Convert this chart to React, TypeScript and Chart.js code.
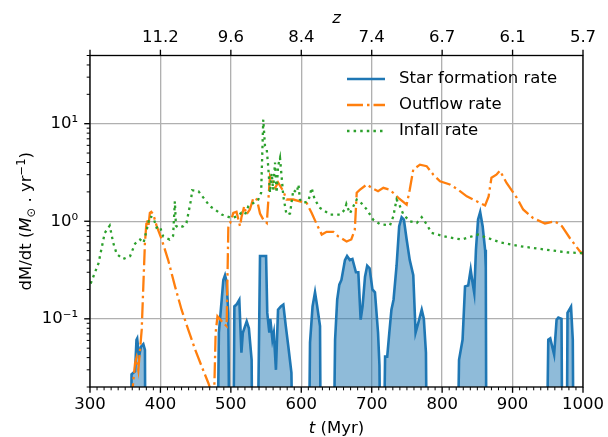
import React, { useEffect, useRef } from 'react';
import { Chart, registerables } from 'chart.js';

Chart.register(...registerables);

// ---------------- data ----------------
const sfrTime = [
  300, 357.5, 359, 364, 366, 367, 369.6, 372.5, 375.7, 378, 379,
  480, 483, 487, 489.3, 491.7, 494, 496.4, 498.5,
  503, 505, 508, 512, 515, 517, 522.5, 525.6, 529.5, 531,
  537, 541.4, 550, 551.7, 554.6, 556, 559, 561, 564, 567, 571, 574.5, 578, 581.6, 586, 589,
  610, 612.4, 616, 619.5, 622.6, 626.6, 628,
  645, 648, 651, 654, 657, 662, 665, 669, 672.6, 677.6, 681, 684.3, 687, 690.5, 693.6, 697, 701, 704.6, 709, 711, 713,
  716, 719, 722, 725, 728, 731, 735.3, 739, 742.5, 745.7, 749.6, 754, 759, 762.3, 766, 771, 774, 777, 779,
  820.5, 824, 829, 832.5, 837, 840.5, 842.6, 845.6, 848, 851, 854, 857.5, 861, 862, 863,
  947.5, 950.7, 953.5, 959, 962.5, 965, 969.5, 971,
  976.6, 978, 983, 985.5, 987, 1000,
];
const sfrRate = [
  0.001, 0.001, 0.027, 0.029, 0.061, 0.063, 0.041, 0.052, 0.055, 0.048, 0.001,
  0.001, 0.072, 0.157, 0.25, 0.28, 0.24, 0.115, 0.001,
  0.001, 0.134, 0.14, 0.157, 0.045, 0.072, 0.094, 0.08, 0.038, 0.001,
  0.001, 0.44, 0.44, 0.115, 0.072, 0.1, 0.061, 0.072, 0.03, 0.124, 0.134, 0.14, 0.084, 0.052, 0.028, 0.001,
  0.001, 0.057, 0.134, 0.187, 0.134, 0.084, 0.001,
  0.001, 0.061, 0.157, 0.224, 0.25, 0.4, 0.44, 0.4, 0.41, 0.3, 0.3, 0.098, 0.134, 0.27, 0.35, 0.33, 0.2, 0.187, 0.072, 0.033, 0.001,
  0.001, 0.041, 0.041, 0.072, 0.124, 0.157, 0.35, 0.89, 1.1, 1.04, 0.65, 0.4, 0.28, 0.072, 0.09, 0.124, 0.1, 0.045, 0.001,
  0.001, 0.038, 0.061, 0.215, 0.22, 0.32, 0.25, 0.184, 0.51, 1.04, 1.24, 0.89, 0.51, 0.33, 0.001,
  0.001, 0.061, 0.063, 0.043, 0.098, 0.103, 0.1, 0.001,
  0.001, 0.115, 0.133, 0.061, 0.001, 0.001,
];

const outflowTime = [
  359, 364, 366, 368.6, 373.4, 375.7, 378, 380.5, 383, 385, 387, 390, 394.7, 401.8, 411, 420.7, 430, 439.6, 449, 458.5, 468, 472, 476,
  478.4, 481, 484, 489.6, 494, 496.5, 499, 503.5, 508, 513, 515, 519, 522, 527, 532, 537, 541.4, 546, 551,
  555.6, 560, 563, 567, 574.5, 579, 588.7, 598, 607.6, 614.6, 622, 629, 636, 645.5, 652.5, 664.3, 671, 676,
  678.7, 683, 693, 700, 709, 716.5, 726, 737.8, 749.6, 754, 759, 768.5, 778, 787.5, 797, 811, 823, 835, 849, 861,
  866, 870, 877, 882, 891.5, 906, 915, 929, 946, 960, 970, 981.5, 995.7, 1000,
];
const outflowRate = [
  0.015, 0.0353, 0.04, 0.03, 0.077, 0.215, 0.6, 1.04, 0.9, 1.22, 1.25, 1.17, 0.89, 0.65, 0.4, 0.215, 0.124, 0.077, 0.049, 0.0326, 0.022, 0.018, 0.014,
  0.072, 0.106, 0.1, 0.09, 0.084, 0.93, 0.96, 1.22, 1.25, 0.89, 1.09, 1.43, 1.17, 1.32, 1.74, 1.67, 1.2, 1.04, 0.96,
  2.9, 2.5, 2.2, 2.5, 2.03, 1.67, 1.67, 1.6, 1.54, 1.22, 0.93, 0.73, 0.78, 0.78, 0.7, 0.62, 0.65, 0.82,
  1.96, 2.1, 2.38, 2.2, 2.03, 2.2, 2.1, 1.74, 1.48, 2.1, 3.39, 3.8, 3.67, 3.0, 2.57, 2.38, 2.1, 1.8, 1.6, 1.45,
  1.8, 2.79, 3.0, 3.3, 2.47, 1.74, 1.32, 1.08, 0.95, 1.0, 0.89, 0.67, 0.49, 0.46,
];

const infallTime = [
  301, 312, 321, 328, 333, 338, 347, 357, 364, 371, 376, 380, 385, 390, 394.5, 399, 404, 413, 418, 420.5, 422, 425.5,
  432.5, 437, 443.5, 445, 454, 463, 470, 477.5, 487, 501, 508, 515, 520, 525, 532, 539, 543,
  546, 548.5, 551, 553, 555.6, 558, 560, 562.7, 565, 567, 569.8, 572, 574.5, 579, 584, 588.7, 593.5, 596, 598,
  603, 610, 614.7, 619, 626.6, 640.8, 655, 662, 664, 669, 678.7, 683, 693, 702, 712, 726, 730.6, 735.3, 740, 745,
  754, 764, 771, 778, 785, 806.5, 827.7, 851, 863, 882, 910, 948.5, 977, 1000,
];
const infallRate = [
  0.23, 0.37, 0.76, 0.9, 0.6, 0.46, 0.41, 0.44, 0.59, 0.65, 0.6, 0.79, 1.12, 1.09, 0.86, 0.89, 0.7, 0.65, 0.71, 1.6, 0.9, 0.86,
  0.89, 0.96, 1.67, 2.08, 2.03, 1.67, 1.43, 1.32, 1.17, 1.08, 1.12, 1.22, 1.17, 1.43, 1.54, 1.67, 1.96,
  11, 5.9, 5.4, 3.67, 1.96, 3.1, 2.1, 4.0, 1.96, 3.67, 4.47, 2.9, 1.8, 1.17, 1.2, 2.1, 1.96, 2.38, 1.67,
  1.54, 1.6, 2.2, 1.67, 1.37, 1.17, 1.17, 1.32, 1.5, 1.2, 1.67, 1.6, 1.32, 1.04, 0.93, 0.91, 1.12, 1.67, 1.43, 1.17,
  1.0, 0.96, 1.1, 0.93, 0.76, 0.69, 0.65, 0.73, 0.68, 0.61, 0.555, 0.51, 0.48, 0.47,
];

const seriesLabels = ['Star formation rate', 'Outflow rate', 'Infall rate'];
const xTickValues = [300, 400, 500, 600, 700, 800, 900, 1000];
const zTickLabels = ['', '11.2', '9.6', '8.4', '7.4', '6.7', '6.1', '5.7'];
const yTickValues = [0.1, 1, 10];
const yTickLabels = ['10\u207B\u00B9', '10\u2070', '10\u00B9'];
const xMinorStep = 10;

// ---------------- styles ----------------
const W = 608;
const H = 437;
const FAMILY = "'DejaVu Sans', sans-serif";
const FS = 16.5;
const BLUE = '#1f77b4';
const ORANGE = '#ff7f0e';
const GREEN = '#2ca02c';
const GRID = '#b0b0b0';
const DASHDOT = [16, 4, 2.5, 4];
const DOTTED = [2.5, 4.1];

type Seg = { text: string; font: string; dy?: number };

function drawRich(ctx: CanvasRenderingContext2D, segs: Seg[], x: number, y: number) {
  let total = 0;
  for (const s of segs) {
    ctx.font = s.font;
    total += ctx.measureText(s.text).width;
  }
  let cx = x - total / 2;
  ctx.textAlign = 'left';
  ctx.textBaseline = 'alphabetic';
  for (const s of segs) {
    ctx.font = s.font;
    ctx.fillText(s.text, cx, y + (s.dy || 0));
    cx += ctx.measureText(s.text).width;
  }
}

const decorPlugin = {
  id: 'decor',
  afterDraw(chart: any) {
    const ctx: CanvasRenderingContext2D = chart.ctx;
    const { left, right, top, bottom } = chart.chartArea;
    const xs = chart.scales.x;
    const ys = chart.scales.y;
    const normal = `${FS}px ${FAMILY}`;
    const italic = `italic ${FS}px ${FAMILY}`;
    const small = `${FS * 0.7}px ${FAMILY}`;
    ctx.save();
    ctx.strokeStyle = '#000';
    ctx.fillStyle = '#000';
    ctx.setLineDash([]);
    const tick = (x1: number, y1: number, x2: number, y2: number, lw: number) => {
      ctx.lineWidth = lw;
      ctx.beginPath();
      ctx.moveTo(x1, y1);
      ctx.lineTo(x2, y2);
      ctx.stroke();
    };
    // x ticks (bottom major + minor, top major)
    for (let v = xs.min; v <= xs.max + 1e-6; v += xMinorStep) {
      const px = xs.getPixelForValue(v);
      const major = xTickValues.includes(Math.round(v));
      tick(px, bottom, px, bottom + (major ? 5.8 : 3.3), major ? 1.33 : 1);
      if (major) tick(px, top, px, top - 5.8, 1.33);
    }
    // y ticks (major + minor)
    for (let e = -2; e <= 1; e++) {
      for (let m = 1; m <= 9; m++) {
        const v = m * Math.pow(10, e);
        if (v < ys.min * 0.999 || v > ys.max * 1.001) continue;
        const py = ys.getPixelForValue(v);
        const major = m === 1;
        tick(left, py, left - (major ? 5.8 : 3.3), py, major ? 1.33 : 1);
      }
    }
    // frame
    ctx.lineWidth = 1.33;
    ctx.strokeRect(left, top, right - left, bottom - top);

    // axis titles
    const cxMid = (left + right) / 2;
    drawRich(ctx, [
      { text: 't', font: italic },
      { text: ' (Myr)', font: normal },
    ], cxMid, 433);
    drawRich(ctx, [{ text: 'z', font: italic }], cxMid, 22.7);

    ctx.save();
    ctx.translate(31, (top + bottom) / 2);
    ctx.rotate(-Math.PI / 2);
    drawRich(ctx, [
      { text: 'dM/dt (', font: normal },
      { text: 'M', font: italic },
      { text: '\u2299', font: small, dy: 3.5 },
      { text: ' . yr', font: normal },
      { text: '\u22121', font: small, dy: -6.5 },
      { text: ')', font: normal },
    ], 0, 0);
    ctx.restore();

    // legend (frameless, upper right)
    const rows = [79, 105, 131];
    const styles = [
      { color: BLUE, dash: [] as number[], lw: 2.6 },
      { color: ORANGE, dash: DASHDOT, lw: 2.3 },
      { color: GREEN, dash: DOTTED, lw: 2.3 },
    ];
    rows.forEach((ry, i) => {
      const st = styles[i];
      ctx.strokeStyle = st.color;
      ctx.lineWidth = st.lw;
      ctx.setLineDash(st.dash);
      ctx.beginPath();
      ctx.moveTo(347, ry);
      ctx.lineTo(385, ry);
      ctx.stroke();
      ctx.setLineDash([]);
      ctx.fillStyle = '#000';
      ctx.font = normal;
      ctx.textAlign = 'left';
      ctx.textBaseline = 'middle';
      ctx.fillText(seriesLabels[i], 399, ry);
    });
    ctx.restore();
  },
};

function pairs(xs: number[], ys: number[]) {
  return xs.map((x, i) => ({ x, y: ys[i] }));
}

function fixBox(size: { width?: number; height?: number }) {
  return (s: any) => {
    if (size.width !== undefined) s.width = size.width;
    if (size.height !== undefined) s.height = size.height;
    s.paddingLeft = 0;
    s.paddingRight = 0;
    s.paddingTop = 0;
    s.paddingBottom = 0;
  };
}

export default function App() {
  const ref = useRef<HTMLCanvasElement | null>(null);
  useEffect(() => {
    if (!ref.current) return;
    const tickFont = { family: FAMILY, size: FS };
    const chart = new Chart(ref.current, {
      type: 'line',
      data: {
        datasets: [
          {
            label: seriesLabels[0],
            data: pairs(sfrTime, sfrRate),
            borderColor: BLUE,
            backgroundColor: 'rgba(31,119,180,0.5)',
            borderWidth: 2.6,
            fill: 'start',
            pointRadius: 0,
            tension: 0,
            order: 3,
            clip: 0,
          },
          {
            label: seriesLabels[1],
            data: pairs(outflowTime, outflowRate),
            borderColor: ORANGE,
            borderWidth: 2.3,
            borderDash: DASHDOT,
            fill: false,
            pointRadius: 0,
            tension: 0,
            order: 2,
            clip: 0,
          },
          {
            label: seriesLabels[2],
            data: pairs(infallTime, infallRate),
            borderColor: GREEN,
            borderWidth: 2.3,
            borderDash: DOTTED,
            fill: false,
            pointRadius: 0,
            tension: 0,
            order: 1,
            clip: 0,
          },
        ],
      },
      options: {
        responsive: false,
        animation: false,
        devicePixelRatio: 1,
        events: [],
        layout: { padding: { left: 0, right: 25, top: 0, bottom: 0 } },
        plugins: {
          legend: { display: false },
          tooltip: { enabled: false },
          title: { display: false },
        },
        scales: {
          x: {
            type: 'linear',
            position: 'bottom',
            min: 300,
            max: 1000,
            afterBuildTicks: (s: any) => { s.ticks = xTickValues.map((v) => ({ value: v })); },
            afterFit: fixBox({ height: 50 }),
            ticks: {
              autoSkip: false,
              maxRotation: 0,
              padding: 8,
              color: '#000',
              font: tickFont,
              callback: (v: any) => String(v),
            },
            grid: { color: GRID, lineWidth: 1.33, drawTicks: false },
            border: { display: false },
          },
          x2: {
            type: 'linear',
            axis: 'x',
            position: 'top',
            min: 300,
            max: 1000,
            afterBuildTicks: (s: any) => { s.ticks = xTickValues.map((v) => ({ value: v })); },
            afterFit: fixBox({ height: 55.5 }),
            ticks: {
              autoSkip: false,
              maxRotation: 0,
              padding: 7.9,
              color: '#000',
              font: tickFont,
              callback: (v: any) => zTickLabels[xTickValues.indexOf(Math.round(v))] ?? '',
            },
            grid: { display: false, drawTicks: false },
            border: { display: false },
          },
          y: {
            type: 'logarithmic',
            position: 'left',
            min: 0.02,
            max: 50,
            afterBuildTicks: (s: any) => { s.ticks = yTickValues.map((v) => ({ value: v })); },
            afterFit: fixBox({ width: 90 }),
            ticks: {
              autoSkip: false,
              padding: 12,
              color: '#000',
              font: tickFont,
              callback: (v: any) => {
                const i = yTickValues.findIndex((t) => Math.abs(t - v) / t < 1e-6);
                return i >= 0 ? yTickLabels[i] : '';
              },
            },
            grid: { color: GRID, lineWidth: 1.33, drawTicks: false },
            border: { display: false },
          },
        },
      } as any,
      plugins: [decorPlugin],
    });
    return () => chart.destroy();
  }, []);

  return (
    <div style={{ position: 'absolute', left: 0, top: 0, width: W, height: H, background: '#fff' }}>
      <canvas ref={ref} width={W} height={H} style={{ display: 'block' }} />
    </div>
  );
}
